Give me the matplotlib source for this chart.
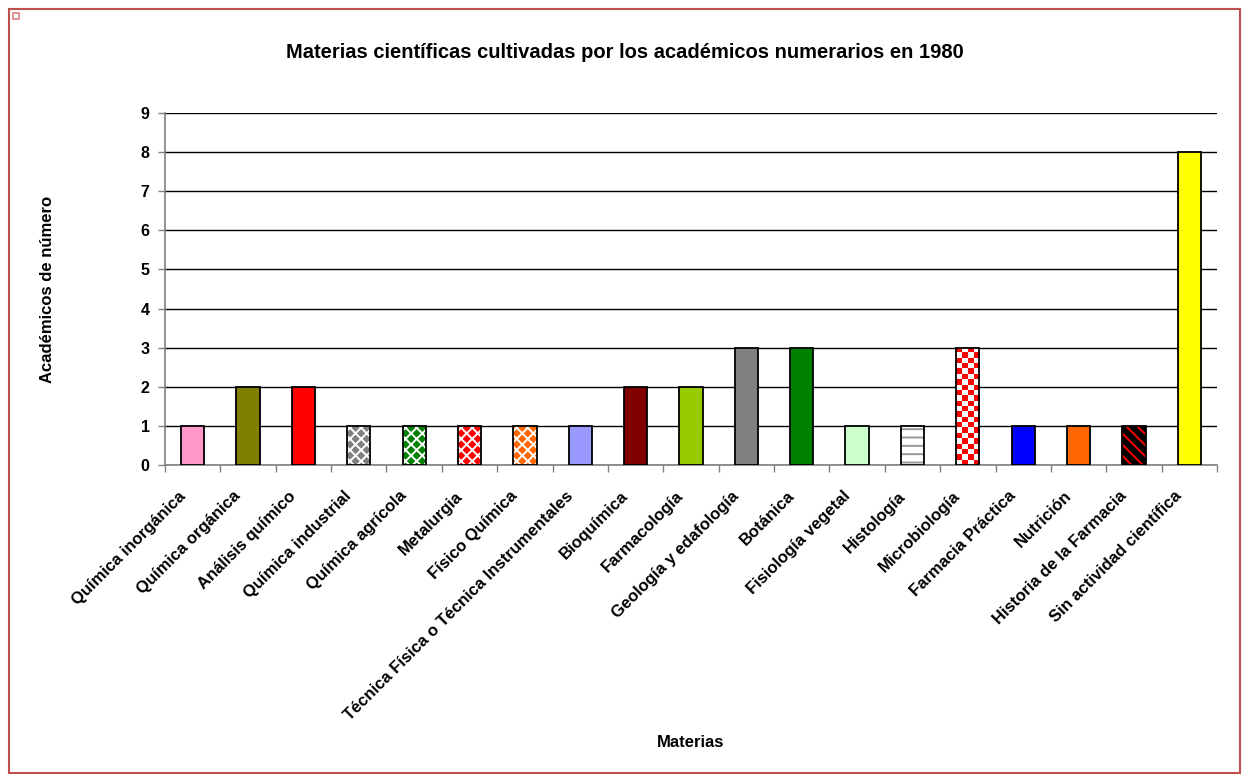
import numpy as np
import matplotlib.pyplot as plt
from matplotlib.patches import Rectangle
from matplotlib.colors import ListedColormap
from matplotlib.transforms import ScaledTranslation

plt.rcParams['font.family'] = ['Liberation Sans', 'DejaVu Sans']
plt.rcParams['hatch.linewidth'] = 1.4

materias = ["Química inorgánica", "Química orgánica", "Análisis químico",
            "Química industrial", "Química agrícola", "Metalurgia",
            "Físico Química", "Técnica Física o Técnica Instrumentales",
            "Bioquímica", "Farmacología", "Geología y edafología", "Botánica",
            "Fisiología vegetal", "Histología", "Microbiología",
            "Farmacia Práctica", "Nutrición", "Historia de la Farmacia",
            "Sin actividad científica"]
academicos = [1, 2, 2, 1, 1, 1, 1, 1, 2, 2, 3, 3, 1, 1, 3, 1, 1, 1, 8]
colores = ["#FF99CC", "#808000", "#FF0000", "#808080", "#008000", "#FF0000",
           "#FF6600", "#9999FF", "#800000", "#99CC00", "#808080", "#008000",
           "#CCFFCC", "#FFFFFF", "#FF0000", "#0000FF", "#FF6600", "#000000",
           "#FFFF00"]
# (hatch, hatch colour) per bar; None = plain fill
tramas = [None, None, None, ("xxx", "white"), ("xxx", "white"), ("xxx", "white"),
          ("xxx", "white"), None, None, None, None, None, None,
          ("--", "#999999"), "checker", None, None, ("\\\\\\", "#FF0000"), None]

fig = plt.figure(figsize=(12.49, 7.78), dpi=100)
ax = fig.add_axes([0.1321, 0.4023, 0.8423, 0.4525])

x = np.arange(len(materias))
w = 0.42
bars = ax.bar(x, academicos, width=w, color=colores, edgecolor="none", zorder=3)

for i, (b, t) in enumerate(zip(bars, tramas)):
    if t == "checker":
        x0, y0 = b.get_x(), b.get_y()
        x1, y1 = x0 + b.get_width(), y0 + b.get_height()
        nx, ny = 4, int(round(b.get_height() * 7.5))
        img = (np.add.outer(np.arange(ny), np.arange(nx)) % 2).astype(float)
        im = ax.imshow(img, cmap=ListedColormap(["#FF0000", "#FFFFFF"]),
                       extent=[x0, x1, y0, y1], aspect="auto", interpolation="nearest",
                       zorder=3.5)
        im.set_clip_path(b)
    elif t is not None:
        ax.bar(x[i], academicos[i], width=w, color="none", edgecolor=t[1],
               hatch=t[0], linewidth=0, zorder=3.6)

ax.bar(x, academicos, width=w, color="none", edgecolor="black", linewidth=1.3, zorder=4)

ax.set_xlim(-0.5, len(materias) - 0.5)
ax.set_ylim(0, 9)
ax.set_yticks(range(10))
ax.set_yticklabels([str(v) for v in range(10)], fontsize=11.5, fontweight="bold")
ax.yaxis.grid(True, color="black", linewidth=1.0, zorder=0)
ax.set_axisbelow(True)

ax.set_xticks(np.arange(len(materias) + 1) - 0.5)
ax.set_xticklabels([])
ax.set_xticks(x, minor=True)
ax.set_xticklabels(materias, minor=True, rotation=45, ha="right", va="top",
                   rotation_mode="anchor", fontsize=12, fontweight="bold")
ax.tick_params(axis="x", which="minor", length=0, pad=6)
ax.tick_params(axis="both", which="major", length=5, color="#808080", width=1)
ax.tick_params(axis="y", pad=6)

# shift the slanted labels back along their own direction
desplaza = ScaledTranslation(-0.15, -0.15, fig.dpi_scale_trans)
for lab in ax.get_xticklabels(minor=True):
    lab.set_transform(lab.get_transform() + desplaza)

for s in ["top", "right"]:
    ax.spines[s].set_visible(False)
for s in ["left", "bottom"]:
    ax.spines[s].set_color("#808080")
    ax.spines[s].set_linewidth(1.2)

fig.text(0.5, 0.933, "Materias científicas cultivadas por los académicos numerarios en 1980",
         ha="center", va="center", fontsize=14.5, fontweight="bold")
fig.text(0.038, 0.6285, "Académicos de número", rotation=90, ha="center", va="center",
         fontsize=12, fontweight="bold")
fig.text(0.553, 0.046, "Materias", ha="center", va="center", fontsize=12, fontweight="bold")

fig.patches.append(Rectangle((9 / 1249, 5 / 778), 1231 / 1249, 764 / 778,
                             transform=fig.transFigure, fill=False,
                             edgecolor="#C0504D", linewidth=1.5))
fig.patches.append(Rectangle((13 / 1249, 1 - 19 / 778), 6 / 1249, 6 / 778,
                             transform=fig.transFigure, fill=False,
                             edgecolor="#D9827F", linewidth=1.2))

fig.savefig("out.png", dpi=100, facecolor="white")
